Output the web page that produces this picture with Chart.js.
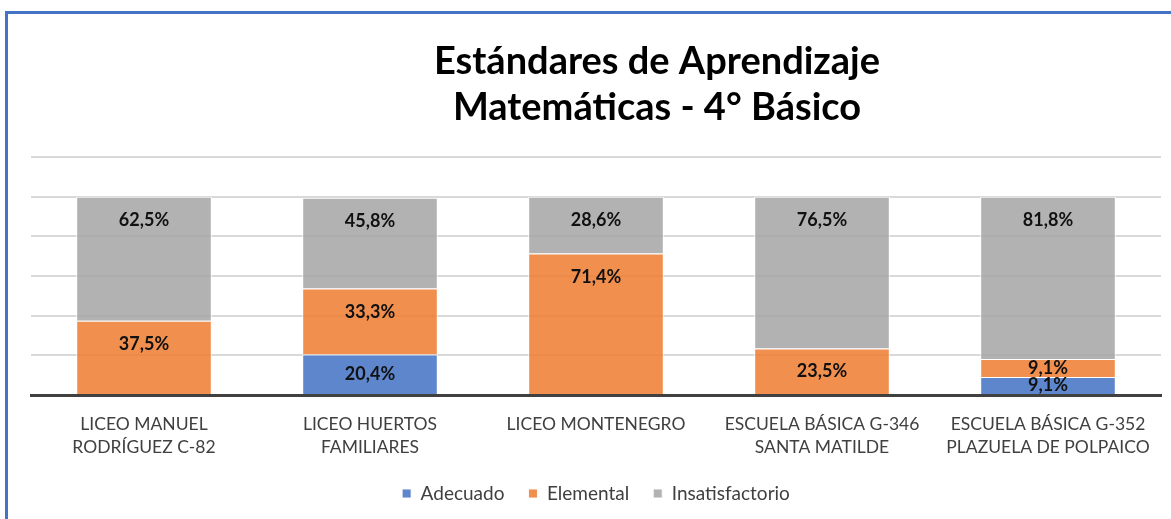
<!DOCTYPE html>
<html>
<head>
<meta charset="utf-8">
<script src="https://cdn.jsdelivr.net/npm/chart.js"></script>
<style>
  body { margin: 0; background: #fff; }
  #wrap { position: relative; width: 1171px; height: 519px; overflow: hidden; }
  #frame { position: absolute; left: 5px; top: 11px; right: -10px; bottom: -10px;
           border-left: 3px solid #4472C4; border-top: 3px solid #4472C4; pointer-events: none; }
</style>
</head>
<body>
<div id="wrap">
  <canvas id="chart1" width="1171" height="519"></canvas>
  <div id="frame"></div>
</div>
<script>
// chart data
var titleLines = ["Estándares de Aprendizaje", "Matemáticas - 4° Básico"];
var schools = [
  ["LICEO MANUEL", "RODRÍGUEZ C-82"],
  ["LICEO HUERTOS", "FAMILIARES"],
  ["LICEO MONTENEGRO"],
  ["ESCUELA BÁSICA G-346", "SANTA MATILDE"],
  ["ESCUELA BÁSICA G-352", "PLAZUELA DE POLPAICO"]
];
var adecuado = [0, 20.4, 0, 0, 9.1];
var elemental = [37.5, 33.3, 71.4, 23.5, 9.1];
var insatisfactorio = [62.5, 45.8, 28.6, 76.5, 81.8];

var FONT = "Lato, 'Open Sans', sans-serif";

// percent labels near the top of each segment
var segLabels = {
  id: "segLabels",
  afterDraw: function(chart) {
    var ctx = chart.ctx;
    ctx.save();
    ctx.font = "bold 18px " + FONT;
    ctx.fillStyle = "#111";
    ctx.textAlign = "center";
    ctx.textBaseline = "middle";
    chart.data.datasets.forEach(function(ds, i) {
      chart.getDatasetMeta(i).data.forEach(function(bar, j) {
        var v = ds.data[j];
        if (!v) return;
        var h = bar.base - bar.y;
        var y = bar.y + Math.min(24, h / 2);
        ctx.fillText(v.toFixed(1).replace(".", ",") + "%", bar.x, y);
      });
    });
    ctx.restore();
  }
};

// title, drawn a bit right of centre like the original
var bigTitle = {
  id: "bigTitle",
  afterDraw: function(chart) {
    var ctx = chart.ctx;
    var cx = (chart.chartArea.left + chart.chartArea.right) / 2 + 61;
    ctx.save();
    ctx.font = "bold 38px " + FONT;
    ctx.fillStyle = "#000";
    ctx.textAlign = "center";
    ctx.textBaseline = "middle";
    ctx.fillText(titleLines[0], cx, 62);
    ctx.fillText(titleLines[1], cx, 108);
    ctx.restore();
  }
};

new Chart(document.getElementById("chart1"), {
  type: "bar",
  data: {
    labels: schools,
    datasets: [
      { label: "Adecuado", data: adecuado, backgroundColor: "rgba(68,114,196,0.86)" },
      { label: "Elemental", data: elemental, backgroundColor: "rgba(237,125,49,0.86)" },
      { label: "Insatisfactorio", data: insatisfactorio, backgroundColor: "rgba(165,165,165,0.86)" }
    ]
  },
  options: {
    responsive: false,
    animation: false,
    layout: { padding: { left: 31, right: 10, top: 157, bottom: 6 } },
    datasets: {
      bar: { barPercentage: 0.6, categoryPercentage: 1, borderColor: "rgba(255,255,255,0.9)", borderWidth: 1 }
    },
    scales: {
      x: {
        stacked: true,
        z: 1,
        grid: { display: false },
        border: { color: "#404040", width: 3 },
        ticks: { color: "#404040", font: { family: FONT, size: 17.5, lineHeight: 1.36 }, padding: 9, maxRotation: 0, autoSkip: false },
        afterFit: function(scale) { scale.height = 65; }
      },
      y: {
        stacked: true,
        min: 0,
        max: 120,
        ticks: { display: false, stepSize: 20 },
        grid: { color: "#d9d9d9", lineWidth: 2, drawTicks: false },
        border: { display: false }
      }
    },
    plugins: {
      legend: {
        position: "bottom",
        labels: { boxWidth: 9, boxHeight: 9, padding: 24, color: "#404040", font: { family: FONT, size: 19 } }
      },
      tooltip: { enabled: false }
    }
  },
  plugins: [segLabels, bigTitle]
});
</script>
</body>
</html>
